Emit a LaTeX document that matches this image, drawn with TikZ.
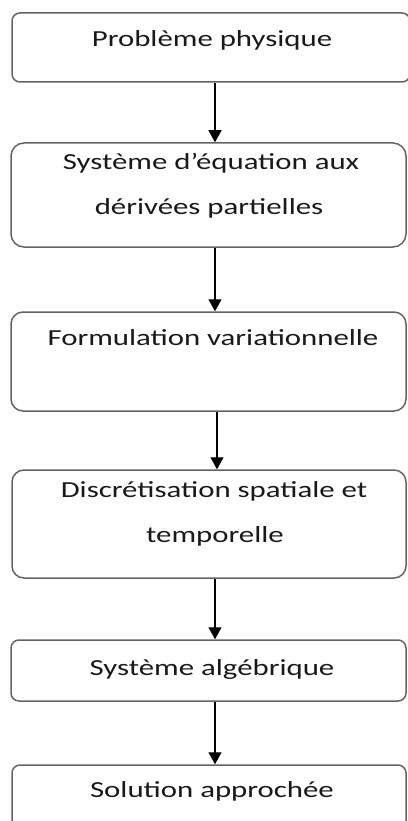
\documentclass[tikz,border=0pt]{standalone}
\usepackage{fontspec}
\setmainfont{Carlito}[FakeStretch=1.34]
\usetikzlibrary{arrows.meta}
\definecolor{boxgray}{RGB}{100,100,100}
\definecolor{txtgray}{RGB}{25,25,25}
\begin{document}
\begin{tikzpicture}[x=1pt,y=-1pt,
  box/.style={draw=boxgray, line width=1.5pt, rounded corners=#1, inner sep=0pt},
  box/.default=8pt,
  lbl/.style={anchor=base, inner sep=0pt, text=txtgray, font=\fontsize{23}{27}\selectfont},
  arr/.style={draw=black, line width=1.4pt, -{Triangle[width=13pt,length=12pt]}}]
\useasboundingbox (0,0) rectangle (407,821);
% boxes
\node[box=8pt,  minimum width=398pt, minimum height=69pt]  (b1) at (211,47.5) {};
\node[box=13pt, minimum width=395pt, minimum height=104pt] (b2) at (208.5,195) {};
\node[box=12pt, minimum width=395pt, minimum height=99pt]  (b3) at (208.5,361.5) {};
\node[box=12pt, minimum width=394pt, minimum height=108pt] (b4) at (209,524) {};
\node[box=8pt,  minimum width=395pt, minimum height=61pt]  (b5) at (208.5,670.5) {};
\node[box=8pt,  minimum width=394pt, minimum height=75pt]  (b6) at (209,802.5) {};
% texts
\node[lbl] (t1)  at (212,47)  {Problème physique};
\node[lbl] (t2a) at (211,170) {Système d’équation aux};
\node[lbl] (t2b) at (209,214) {dérivées partielles};
\node[lbl] (t3)  at (213,345) {Formulation variationnelle};
\node[lbl] (t4a) at (214,497) {Discrétisation spatiale et};
\node[lbl] (t4b) at (215,542) {temporelle};
\node[lbl] (t5)  at (212,675) {Système algébrique};
\node[lbl] (t6)  at (212,797) {Solution approchée};
% connectors
\coordinate (ax) at (215,0);
\coordinate (ay) at (217,0);
\draw[arr] (b1.south -| ax) -- (b2.north -| ax);
\draw[arr] (b2.south -| ax) -- (b3.north -| ax);
\draw[arr] (b3.south -| ay) -- (b4.north -| ay);
\draw[arr] (b4.south -| ax) -- (b5.north -| ax);
\draw[arr] (b5.south -| ax) -- (b6.north -| ax);
\end{tikzpicture}
\end{document}
